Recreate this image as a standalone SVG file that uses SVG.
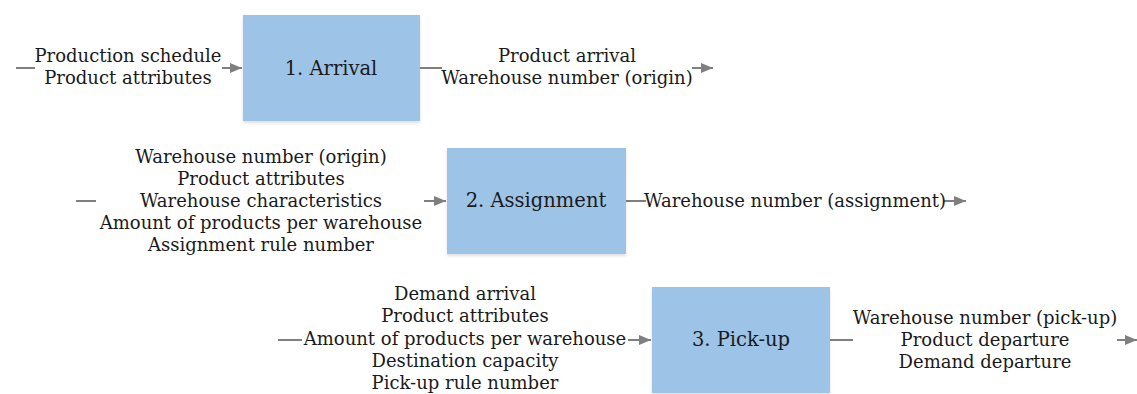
<svg xmlns="http://www.w3.org/2000/svg" width="1137" height="394" viewBox="0 0 1137 394">
  <style>
    .box { fill: #9dc3e6; }
    .lbl { font-family: "DejaVu Serif", serif; font-size: 18px; fill: #1a1a1a; text-anchor: middle; }
    .title { font-family: "DejaVu Serif", serif; font-size: 19.5px; fill: #1a1a1a; text-anchor: middle; }
    .conn { stroke: #7f7f7f; stroke-width: 2; fill: none; }
  </style>
  <defs>
    <marker id="arrow" markerWidth="12" markerHeight="10" refX="12" refY="5" orient="auto" markerUnits="userSpaceOnUse">
      <path d="M0,0 L12,5 L0,10 z" fill="#7f7f7f"/>
    </marker>
    <filter id="shadow" x="-5%" y="-5%" width="110%" height="115%">
      <feDropShadow dx="0" dy="2" stdDeviation="1.5" flood-color="#000" flood-opacity="0.12"/>
    </filter>
  </defs>

  <g id="connectors">
    <!-- step 1 inputs / outputs -->
    <line class="conn" x1="16" y1="68" x2="35" y2="68"/>
    <line class="conn" x1="222" y1="68" x2="242" y2="68" marker-end="url(#arrow)"/>
    <line class="conn" x1="420" y1="68" x2="442" y2="68"/>
    <line class="conn" x1="692" y1="68" x2="713" y2="68" marker-end="url(#arrow)"/>
    <!-- step 2 -->
    <line class="conn" x1="76" y1="201" x2="96" y2="201"/>
    <line class="conn" x1="424" y1="201" x2="446" y2="201" marker-end="url(#arrow)"/>
    <line class="conn" x1="626" y1="201" x2="646" y2="201"/>
    <line class="conn" x1="944" y1="201" x2="966" y2="201" marker-end="url(#arrow)"/>
    <!-- step 3 -->
    <line class="conn" x1="278" y1="340" x2="302" y2="340"/>
    <line class="conn" x1="628" y1="340" x2="651" y2="340" marker-end="url(#arrow)"/>
    <line class="conn" x1="830" y1="340" x2="853" y2="340"/>
    <line class="conn" x1="1117" y1="340" x2="1137" y2="340" marker-end="url(#arrow)"/>
  </g>

  <g id="in-arrival">
    <text class="lbl" x="128" y="62">Production schedule</text>
    <text class="lbl" x="128" y="84">Product attributes</text>
  </g>
  <g id="arrival">
    <rect class="box" x="243" y="15" width="177" height="106" filter="url(#shadow)"/>
    <text class="title" x="331" y="75">1. Arrival</text>
  </g>
  <g id="out-arrival">
    <text class="lbl" x="567" y="62">Product arrival</text>
    <text class="lbl" x="567" y="84">Warehouse number (origin)</text>
  </g>

  <g id="in-assignment">
    <text class="lbl" x="261" y="163">Warehouse number (origin)</text>
    <text class="lbl" x="261" y="185">Product attributes</text>
    <text class="lbl" x="261" y="207">Warehouse characteristics</text>
    <text class="lbl" x="261" y="229">Amount of products per warehouse</text>
    <text class="lbl" x="261" y="251">Assignment rule number</text>
  </g>
  <g id="assignment">
    <rect class="box" x="447" y="148" width="179" height="106" filter="url(#shadow)"/>
    <text class="title" x="536" y="207">2. Assignment</text>
  </g>
  <g id="out-assignment">
    <text class="lbl" x="795" y="207">Warehouse number (assignment)</text>
  </g>

  <g id="in-pickup">
    <text class="lbl" x="465" y="300">Demand arrival</text>
    <text class="lbl" x="465" y="322">Product attributes</text>
    <text class="lbl" x="465" y="345">Amount of products per warehouse</text>
    <text class="lbl" x="465" y="367">Destination capacity</text>
    <text class="lbl" x="465" y="389">Pick-up rule number</text>
  </g>
  <g id="pickup">
    <rect class="box" x="652" y="287" width="178" height="106" filter="url(#shadow)"/>
    <text class="title" x="741" y="346">3. Pick-up</text>
  </g>
  <g id="out-pickup">
    <text class="lbl" x="985" y="324">Warehouse number (pick-up)</text>
    <text class="lbl" x="985" y="346">Product departure</text>
    <text class="lbl" x="985" y="368">Demand departure</text>
  </g>
</svg>
